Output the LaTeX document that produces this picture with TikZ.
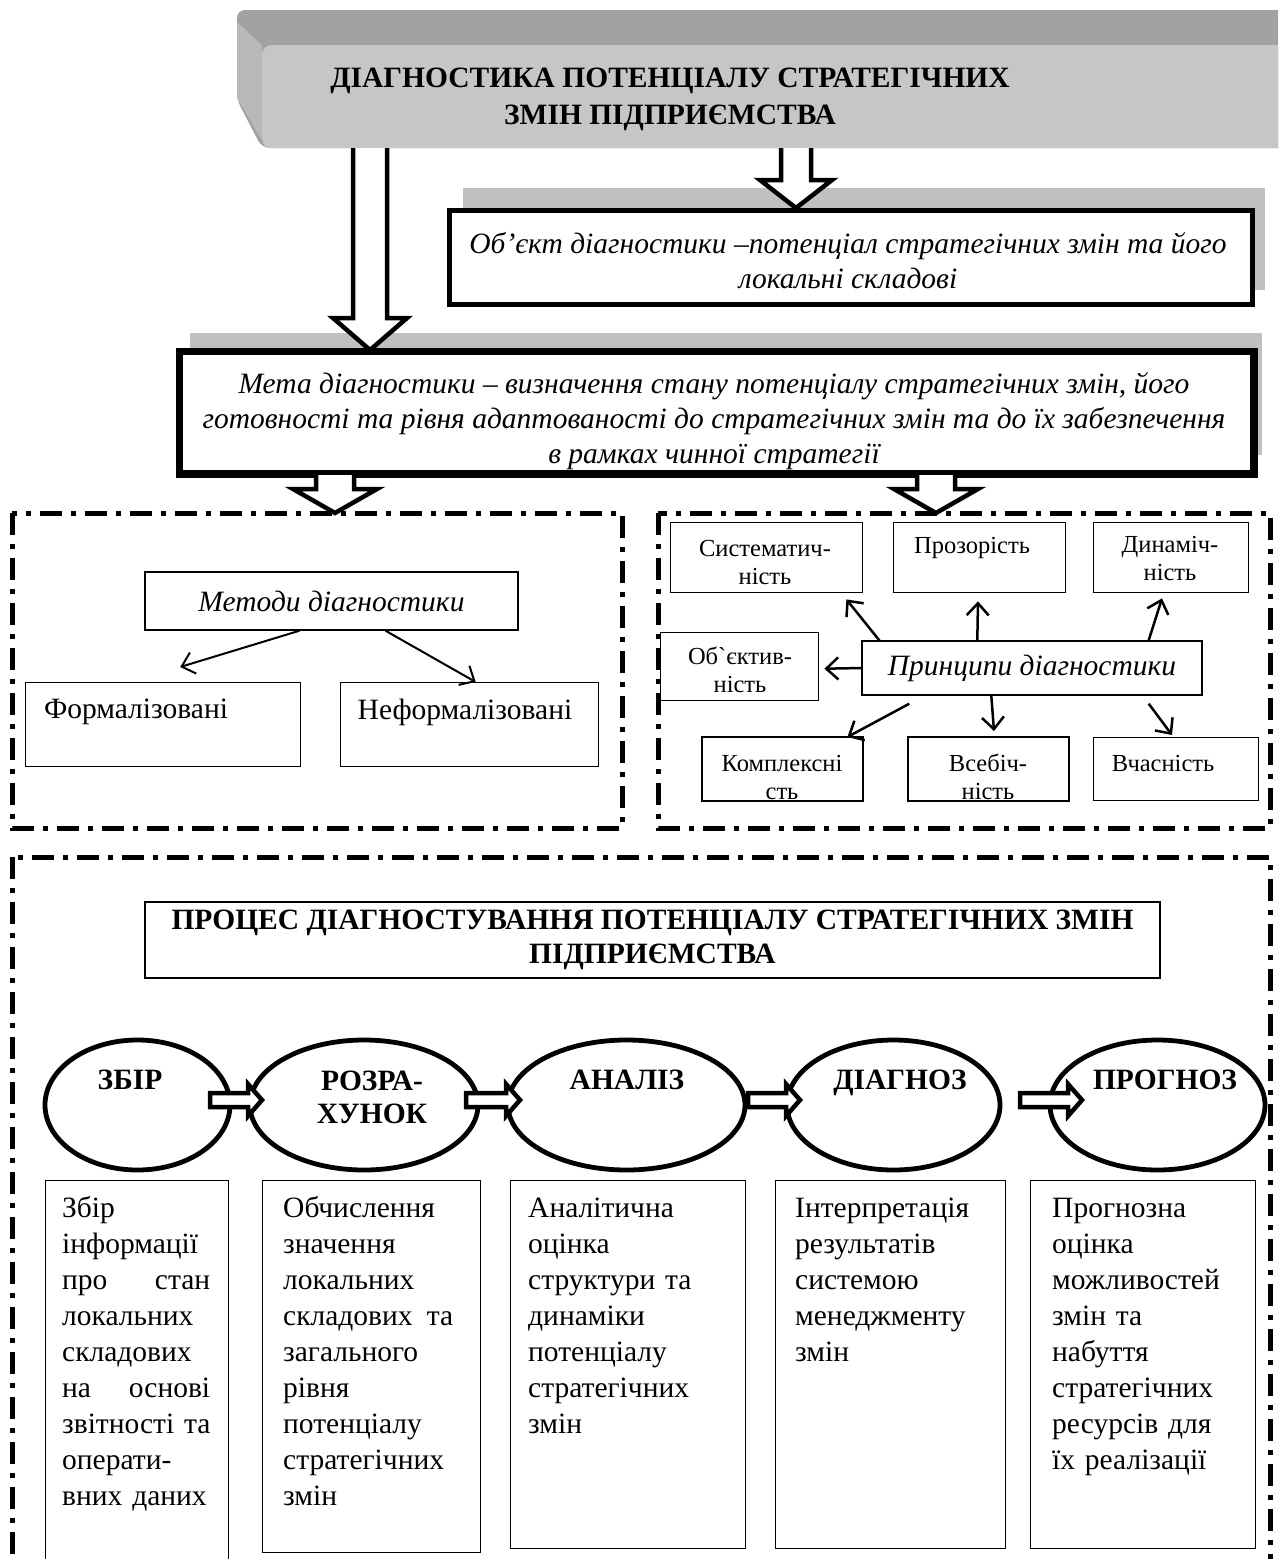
\documentclass[tikz,border=0pt]{standalone}
\usepackage{fontspec}
\setmainfont{Liberation Serif}[Ligatures=TeXOff]
\usetikzlibrary{calc,shapes.geometric,arrows.meta}

\definecolor{backgray}{HTML}{A2A2A2}
\definecolor{edgegray}{HTML}{B8B8B8}
\definecolor{frontgray}{HTML}{C6C6C6}
\definecolor{shadowgray}{HTML}{C0C0C0}

% hollow block arrow pointing down: top point, tip point, shaft half width, head half width, head length
\newcommand\hollowdown[5]{%
  \path[hollow] let \p1=(#1), \p2=(#2) in
    (\x2-#3pt,\y1) -- (\x2-#3pt,\y2+#5pt) -- (\x2-#4pt,\y2+#5pt) -- (\x2,\y2)
    -- (\x2+#4pt,\y2+#5pt) -- (\x2+#3pt,\y2+#5pt) -- (\x2+#3pt,\y1);}
% hollow block arrow pointing right: start point, tip point, shaft half height, head half height, head length
\newcommand\hollowright[5]{%
  \path[hollow] let \p1=(#1), \p2=(#2) in
    (\x1,\y2+#3pt) -- (\x2-#5pt,\y2+#3pt) -- (\x2-#5pt,\y2+#4pt) -- (\x2,\y2)
    -- (\x2-#5pt,\y2-#4pt) -- (\x2-#5pt,\y2-#3pt) -- (\x1,\y2-#3pt) -- cycle;}
% a line of given width with its two words pushed to the edges
\newcommand\spreadline[3]{\makebox[#1]{#2\hfill #3}}

\tikzset{
  thickbox/.style={draw, line width=5pt, fill=white, inner sep=0pt},
  thinbox/.style={draw, line width=1.4pt, fill=white, inner sep=0pt},
  panel/.style={draw, line width=5pt, dash pattern=on 22pt off 9pt on 5pt off 9pt},
  hollow/.style={draw, line width=4.5pt, fill=white, line join=miter, miter limit=10},
  thinarrow/.style={line width=2pt, -{Straight Barb[length=12pt,width=22pt]}},
  prarrow/.style={line width=2.5pt, -{Straight Barb[length=12pt,width=22pt]}},
  stage/.style={ellipse, draw, line width=4.8pt, fill=white, inner sep=0pt},
  headtext/.style={font=\fontsize{29.5}{37}\selectfont\bfseries, align=center, inner sep=0pt},
  ittext/.style={font=\fontsize{29.5}{35}\selectfont\itshape, align=center, inner sep=0pt},
  bodytext/.style={font=\fontsize{29.5}{36}\selectfont, inner sep=0pt},
  prtext/.style={font=\fontsize{24.5}{28}\selectfont, align=center, inner sep=0pt},
  steptext/.style={font=\fontsize{29.5}{36}\selectfont, align=left, inner sep=0pt, anchor=base west},
}

\begin{document}
\begin{tikzpicture}[x=1pt,y=-1pt]
\clip (0,0) rectangle (1278,1559);
\fill[white] (0,0) rectangle (1278,1559);

% ---- title plate with bevel
\fill[backgray, rounded corners=8pt] (237,100) -- (237,10) -- (1300,10) -- (1300,148) -- (262,148) -- cycle;
\fill[edgegray] (237,22) -- (262,45) -- (262,140) -- (237,98) -- cycle;
\node[fill=frontgray, rounded corners=9pt, minimum width=1040pt, minimum height=103pt,
      anchor=north west, inner sep=0pt] (head) at (262,45) {};
\node[headtext] (title) at (670,99) {ДІАГНОСТИКА ПОТЕНЦІАЛУ СТРАТЕГІЧНИХ\\ЗМІН ПІДПРИЄМСТВА};

% ---- object of diagnostics
\fill[shadowgray] (463,188) rectangle (1265,290);
\node[thickbox, minimum width=803pt, minimum height=94pt, anchor=north west] (obj) at (447,208) {};
\node[ittext] (objtxt) at (848,261) {Об’єкт діагностики –потенціал стратегічних змін та його\\локальні складові};

% ---- purpose of diagnostics
\fill[shadowgray] (190,333) rectangle (1262,455);
\node[thickbox, minimum width=1072pt, minimum height=120pt, anchor=north west] (meta) at (178,350) {};
\begin{scope}
  \clip (meta.south west) rectangle (meta.north east);
  \node[ittext] (metatxt) at (714,421) {Мета діагностики – визначення стану потенціалу стратегічних змін, його\\готовності та рівня адаптованості до стратегічних змін та до їх забезпечення\\в рамках чинної стратегії};
\end{scope}
\draw[line width=5pt] (meta.south west) rectangle (meta.north east);

% ---- block arrows from the title
\coordinate (bigtop) at (370,148);
\coordinate (bigtip) at ($(meta.north west)+(192,0)$);
\hollowdown{bigtop}{bigtip}{17}{37}{32}
\coordinate (rtop) at (796,148);
\coordinate (rtip) at ($(obj.north west)+(349,0)$);
\hollowdown{rtop}{rtip}{15}{36}{28}

% ---- dash-dot panels
\draw[panel] (12,513) rectangle (622,828);
\draw[panel] (658,513) rectangle (1270,828);
\draw[panel] (12,857) rectangle (1270,1600);

% ---- block arrows into the panels
\coordinate (mltop) at ($(meta.south west)+(157,0)$);
\coordinate (mltip) at (335,513);
\hollowdown{mltop}{mltip}{19}{42}{24}
\coordinate (mrtop) at ($(meta.south west)+(758,0)$);
\coordinate (mrtip) at (936,513);
\hollowdown{mrtop}{mrtip}{19}{42}{24}

% ---- methods
\node[thinbox, ittext, minimum width=373pt, minimum height=58pt] (methods) at (331.5,601) {Методи діагностики};
\node[thinbox, minimum width=275pt, minimum height=84pt, anchor=north west] (formal) at (25,682) {};
\node[bodytext] (formaltxt) at (136,712) {Формалізовані};
\node[thinbox, minimum width=258pt, minimum height=84pt, anchor=north west] (nonformal) at (340,682) {};
\node[bodytext] (nonformaltxt) at (465,712) {Неформалізовані};
\draw[thinarrow] ($(methods.south)+(-32,0)$) -- ($(formal.north)+(17,-15)$);
\draw[thinarrow] ($(methods.south)+(54,0)$) -- ($(nonformal.north)+(6,0)$);

% ---- principles
\node[thinbox, minimum width=192pt, minimum height=70pt, anchor=north west] (sys) at (670,522) {};
\node[prtext] (systxt) at (765,562) {Систематич-\\ність};
\node[thinbox, minimum width=172pt, minimum height=70pt, anchor=north west] (proz) at (893,522) {};
\node[prtext] (proztxt) at (972,548) {Прозорість};
\node[thinbox, minimum width=155pt, minimum height=70pt, anchor=north west] (dyn) at (1093,522) {};
\node[prtext] (dyntxt) at (1170,558) {Динаміч-\\ність};
\node[thinbox, minimum width=158pt, minimum height=68pt, anchor=north west] (objv) at (660,632) {};
\node[prtext] (objvtxt) at (740,670) {Об`єктив-\\ність};
\node[thinbox, ittext, minimum width=340pt, minimum height=54pt] (princ) at (1032,668) {Принципи діагностики};
\node[thinbox, minimum width=160pt, minimum height=63pt, anchor=north west] (kompl) at (702,737) {};
\node[thinbox, minimum width=160pt, minimum height=63pt, anchor=north west] (vseb) at (908,737) {};
\begin{scope}
  \clip (kompl.south west) rectangle (vseb.north east);
  \node[prtext] (kompltxt) at (782,777) {Комплексні\\сть};
  \node[prtext] (vsebtxt) at (988,777) {Всебіч-\\ність};
\end{scope}
\draw[line width=1.4pt] (kompl.south west) rectangle (kompl.north east);
\draw[line width=1.4pt] (vseb.south west) rectangle (vseb.north east);
\node[thinbox, minimum width=165pt, minimum height=63pt, anchor=north west] (vchas) at (1093,737) {};
\node[prtext] (vchastxt) at (1163,763) {Вчасність};

\draw[prarrow] ($(princ.north west)+(18,0)$) -- ($(sys.south east)+(-17,6)$);
\draw[prarrow] ($(princ.north west)+(116,0)$) -- ($(proz.south west)+(85,8)$);
\draw[prarrow] ($(princ.north east)+(-54,0)$) -- ($(dyn.south west)+(69,5)$);
\draw[prarrow] (princ.west) -- ($(objv.east)+(5,2)$);
\draw[prarrow] ($(princ.south west)+(48,8)$) -- ($(kompl.north east)+(-16,0)$);
\draw[prarrow] ($(princ.south west)+(130,0)$) -- ($(vseb.north west)+(86,-6)$);
\draw[prarrow] ($(princ.south east)+(-54,8)$) -- ($(vchas.north west)+(79,-2)$);

% ---- diagnosing process
\node[thinbox, headtext, font=\fontsize{29.5}{34}\selectfont\bfseries, minimum width=1015pt, minimum height=76pt] (proc) at (652.5,940) {ПРОЦЕС ДІАГНОСТУВАННЯ ПОТЕНЦІАЛУ СТРАТЕГІЧНИХ ЗМІН\\ПІДПРИЄМСТВА};

\node[stage, minimum width=185pt, minimum height=130pt] (zbir) at (137.5,1105) {};
\node[stage, minimum width=228pt, minimum height=130pt] (rozr) at (364,1105) {};
\node[stage, minimum width=237pt, minimum height=130pt] (anal) at (626.5,1105) {};
\node[stage, minimum width=213pt, minimum height=130pt] (diag) at (893.5,1105) {};
\node[stage, minimum width=215pt, minimum height=130pt] (prog) at (1157.5,1105) {};
\node[headtext, anchor=base] (zbirtxt) at (130,1089) {ЗБІР};
\node[headtext, font=\fontsize{29.5}{33}\selectfont\bfseries] (rozrtxt) at (372,1097) {РОЗРА-\\ХУНОК};
\node[headtext, anchor=base] (analtxt) at (627,1089) {АНАЛІЗ};
\node[headtext, anchor=base] (diagtxt) at (900,1089) {ДІАГНОЗ};
\node[headtext, anchor=base] (progtxt) at (1165,1089) {ПРОГНОЗ};

\coordinate (s1) at (210,1100); \coordinate (t1) at (262,1100);
\coordinate (s2) at (466,1100); \coordinate (t2) at (520,1100);
\coordinate (s3) at (748,1100); \coordinate (t3) at (800,1100);
\coordinate (s4) at (1020,1100); \coordinate (t4) at (1082,1100);
\hollowright{s1}{t1}{7}{16}{14}
\hollowright{s2}{t2}{7}{16}{14}
\hollowright{s3}{t3}{7}{16}{14}
\hollowright{s4}{t4}{7}{16}{14}

% ---- step descriptions
\node[thinbox, minimum width=183pt, minimum height=380pt, anchor=north west] (b1) at (45,1180) {};
\node[thinbox, minimum width=218pt, minimum height=372pt, anchor=north west] (b2) at (262,1180) {};
\node[thinbox, minimum width=235pt, minimum height=368pt, anchor=north west] (b3) at (510,1180) {};
\node[thinbox, minimum width=230pt, minimum height=368pt, anchor=north west] (b4) at (775,1180) {};
\node[thinbox, minimum width=225pt, minimum height=368pt, anchor=north west] (b5) at (1030,1180) {};

\node[steptext, text width=200pt] (b1txt) at (62,1217) {Збір\\інформації\\\spreadline{148pt}{про}{стан}\\локальних\\складових\\\spreadline{148pt}{на}{основі}\\звітності та\\операти-\\вних даних};
\node[steptext, text width=200pt] (b2txt) at (283,1217) {Обчислення\\значення\\локальних\\\spreadline{170pt}{складових}{та}\\загального\\рівня\\потенціалу\\стратегічних\\змін};
\node[steptext, text width=220pt] (b3txt) at (528,1217) {Аналітична\\оцінка\\структури та\\динаміки\\потенціалу\\стратегічних\\змін};
\node[steptext, text width=220pt] (b4txt) at (795,1217) {Інтерпретація\\результатів\\системою\\менеджменту\\змін};
\node[steptext, text width=220pt] (b5txt) at (1052,1217) {Прогнозна\\оцінка\\можливостей\\змін та\\набуття\\стратегічних\\ресурсів для\\їх реалізації};
\end{tikzpicture}
\end{document}
